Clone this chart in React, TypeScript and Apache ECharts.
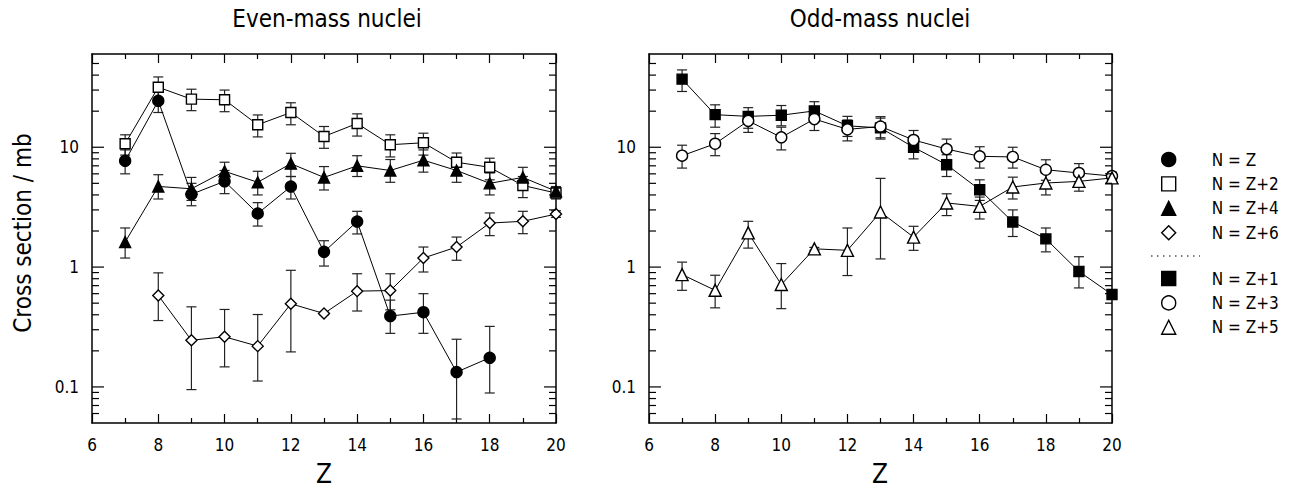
import React, { useEffect, useRef } from 'react';
import * as echarts from 'echarts';

const FONT = '"Liberation Sans Narrow", "DejaVu Sans Condensed", "Liberation Sans", sans-serif';

const X_MIN = 6;
const X_MAX = 20;
const X_INTERVAL = 2;
const Y_MIN = 0.05;
const Y_MAX = 60;
const Y_MINOR_TICKS = [0.06, 0.07, 0.08, 0.09, 0.2, 0.3, 0.4, 0.5, 0.6, 0.7, 0.8, 0.9, 2, 3, 4, 5, 6, 7, 8, 9, 20, 30, 40, 50];
const Y_MAJOR_TICKS = [0.1, 1, 10];

const TITLES = ['Even-mass nuclei', 'Odd-mass nuclei'];
const X_NAME = 'Z';
const Y_NAME = 'Cross section / mb';

// Even-mass nuclei
const nzZ = [7, 8, 9, 10, 11, 12, 13, 14, 15, 16, 17, 18];
const nzVal = [7.7, 24.4, 4.05, 5.2, 2.8, 4.7, 1.34, 2.4, 0.39, 0.42, 0.133, 0.175];
const nzLo = [6.0, 19.5, 3.25, 4.1, 2.2, 3.7, 1.02, 1.89, 0.28, 0.28, 0.054, 0.089];
const nzHi = [9.5, 29.5, 5.0, 6.4, 3.45, 5.7, 1.66, 2.92, 0.53, 0.6, 0.25, 0.32];

const nz2Z = [7, 8, 9, 10, 11, 12, 13, 14, 15, 16, 17, 18, 19, 20];
const nz2Val = [10.7, 31.7, 25.2, 24.9, 15.4, 19.5, 12.3, 15.8, 10.5, 10.9, 7.5, 6.8, 4.8, 4.15];
const nz2Lo = [8.6, 25.5, 20.2, 19.8, 12.2, 15.4, 9.8, 12.4, 8.3, 8.6, 5.9, 5.35, 3.8, 3.7];
const nz2Hi = [12.7, 38.6, 30.5, 30.0, 18.6, 23.5, 14.9, 19.0, 12.7, 13.1, 8.95, 8.1, 5.7, 4.6];

const nz4Z = [7, 8, 9, 10, 11, 12, 13, 14, 15, 16, 17, 18, 19, 20];
const nz4Val = [1.62, 4.71, 4.5, 6.3, 5.1, 7.3, 5.6, 7.0, 6.4, 7.8, 6.4, 5.0, 5.6, 4.3];
const nz4Lo = [1.19, 3.7, 3.6, 5.0, 4.0, 5.7, 4.4, 5.7, 5.1, 6.2, 5.1, 4.0, 4.6, 3.9];
const nz4Hi = [2.12, 5.9, 5.6, 7.5, 6.3, 8.9, 6.9, 8.5, 7.9, 9.5, 7.9, 6.1, 6.8, 4.7];

const nz6Z = [8, 9, 10, 11, 12, 13, 14, 15, 16, 17, 18, 19, 20];
const nz6Val = [0.58, 0.245, 0.262, 0.219, 0.494, 0.41, 0.63, 0.637, 1.19, 1.47, 2.33, 2.41, 2.77];
const nz6Lo = [0.358, 0.095, 0.147, 0.112, 0.196, 0.4, 0.43, 0.44, 0.91, 1.14, 1.83, 1.9, 2.6];
const nz6Hi = [0.895, 0.466, 0.443, 0.402, 0.94, 0.42, 0.88, 0.88, 1.47, 1.78, 2.83, 2.92, 2.95];

// Odd-mass nuclei
const nz1Z = [7, 8, 9, 10, 11, 12, 13, 14, 15, 16, 17, 18, 19, 20];
const nz1Val = [37.0, 18.7, 18.1, 18.5, 20.1, 15.1, 14.5, 10.0, 7.15, 4.42, 2.38, 1.72, 0.92, 0.59];
const nz1Lo = [29.2, 14.7, 14.4, 15.1, 16.4, 12.3, 11.7, 8.0, 5.7, 3.6, 1.8, 1.34, 0.67, 0.55];
const nz1Hi = [44.2, 22.6, 21.4, 22.3, 24.0, 18.1, 18.0, 12.3, 8.66, 5.35, 3.0, 2.12, 1.22, 0.63];

const nz3Z = [7, 8, 9, 10, 11, 12, 13, 14, 15, 16, 17, 18, 19, 20];
const nz3Val = [8.5, 10.7, 16.6, 12.1, 17.2, 14.1, 14.9, 11.5, 9.66, 8.4, 8.3, 6.49, 6.1, 5.75];
const nz3Lo = [6.7, 8.5, 13.3, 9.5, 13.8, 11.3, 12.0, 9.3, 7.9, 6.7, 6.7, 5.3, 5.0, 5.3];
const nz3Hi = [10.4, 13.0, 19.8, 14.7, 20.5, 16.9, 17.5, 13.8, 11.7, 10.1, 10.0, 7.86, 7.3, 6.2];

const nz5Z = [7, 8, 9, 10, 11, 12, 13, 14, 15, 16, 17, 18, 19, 20];
const nz5Val = [0.866, 0.64, 1.93, 0.715, 1.42, 1.38, 2.88, 1.78, 3.43, 3.21, 4.66, 5.03, 5.19, 5.55];
const nz5Lo = [0.64, 0.457, 1.44, 0.45, 1.38, 0.85, 1.17, 1.38, 2.69, 2.52, 3.7, 4.0, 4.3, 5.0];
const nz5Hi = [1.1, 0.855, 2.41, 1.07, 1.46, 2.12, 5.5, 2.19, 4.09, 3.84, 5.63, 6.1, 6.3, 6.1];

type Spec = {
  name: string;
  grid: number;
  z: number[];
  val: number[];
  lo: number[];
  hi: number[];
  symbol: string;
  size: number;
  filled: boolean;
};

const SPECS: Spec[] = [
  { name: 'N = Z', grid: 0, z: nzZ, val: nzVal, lo: nzLo, hi: nzHi, symbol: 'circle', size: 11, filled: true },
  { name: 'N = Z+2', grid: 0, z: nz2Z, val: nz2Val, lo: nz2Lo, hi: nz2Hi, symbol: 'rect', size: 10, filled: false },
  { name: 'N = Z+4', grid: 0, z: nz4Z, val: nz4Val, lo: nz4Lo, hi: nz4Hi, symbol: 'triangle', size: 11, filled: true },
  { name: 'N = Z+6', grid: 0, z: nz6Z, val: nz6Val, lo: nz6Lo, hi: nz6Hi, symbol: 'diamond', size: 11, filled: false },
  { name: 'N = Z+1', grid: 1, z: nz1Z, val: nz1Val, lo: nz1Lo, hi: nz1Hi, symbol: 'rect', size: 10, filled: true },
  { name: 'N = Z+3', grid: 1, z: nz3Z, val: nz3Val, lo: nz3Lo, hi: nz3Hi, symbol: 'circle', size: 11, filled: false },
  { name: 'N = Z+5', grid: 1, z: nz5Z, val: nz5Val, lo: nz5Lo, hi: nz5Hi, symbol: 'triangle', size: 12, filled: false },
];

const GRIDS = [
  { left: 92, top: 54, width: 464, height: 369 },
  { left: 649, top: 54, width: 463, height: 369 },
];

function buildOption() {
  const xAxes: any[] = [];
  const yAxes: any[] = [];
  GRIDS.forEach((_, g) => {
    const base = {
      type: 'value',
      gridIndex: g,
      min: X_MIN,
      max: X_MAX,
      interval: X_INTERVAL,
      axisLine: { show: true, onZero: false, lineStyle: { color: '#000', width: 1.5 } },
      axisTick: { show: true, inside: true, length: 9, lineStyle: { color: '#000', width: 1.2 } },
      minorTick: { show: true, splitNumber: 2, length: 5, lineStyle: { color: '#000', width: 1.2 } },
      splitLine: { show: false },
      minorSplitLine: { show: false },
    };
    xAxes.push({
      ...base,
      position: 'bottom',
      axisLabel: { show: true, color: '#000', fontSize: 17, fontFamily: FONT, margin: 13 },
    });
    xAxes.push({ ...base, position: 'top', axisLabel: { show: false } });
    const ybase = {
      type: 'log',
      logBase: 10,
      gridIndex: g,
      min: Y_MIN,
      max: Y_MAX,
      axisLine: { show: true, onZero: false, lineStyle: { color: '#000', width: 1.5 } },
      axisTick: { show: false },
      splitLine: { show: false },
    };
    yAxes.push({
      ...ybase,
      position: 'left',
      axisLabel: {
        show: true,
        color: '#000',
        fontSize: 17,
        fontFamily: FONT,
        margin: 13,
        formatter: (v: number) => {
          const t = Y_MAJOR_TICKS.find((m) => Math.abs(m - v) / m < 1e-6);
          return t !== undefined ? String(t) : '';
        },
      },
    });
    yAxes.push({ ...ybase, position: 'right', axisLabel: { show: false } });
  });

  const series: any[] = [];

  // y-axis ticks (log minor/major), both sides of each panel
  GRIDS.forEach((_, g) => {
    const tickData = [
      ...Y_MAJOR_TICKS.map((v) => [X_MIN, v, 1]),
      ...Y_MINOR_TICKS.map((v) => [X_MIN, v, 0]),
    ];
    series.push({
      type: 'custom',
      name: 'ticks' + g,
      xAxisIndex: g * 2,
      yAxisIndex: g * 2,
      silent: true,
      z: 5,
      encode: { x: 0, y: 1 },
      data: tickData,
      renderItem: (params: any, api: any) => {
        const v = api.value(1);
        const major = api.value(2) === 1;
        const l = api.coord([X_MIN, v]);
        const r = api.coord([X_MAX, v]);
        const len = major ? 12 : 7;
        const st = { stroke: '#000', lineWidth: 1.2 };
        return {
          type: 'group',
          children: [
            { type: 'line', shape: { x1: l[0], y1: l[1], x2: l[0] + len, y2: l[1] }, style: st },
            { type: 'line', shape: { x1: r[0] - len, y1: r[1], x2: r[0], y2: r[1] }, style: st },
          ],
        };
      },
    });
  });

  SPECS.forEach((s) => {
    const g = s.grid;
    series.push({
      type: 'custom',
      name: s.name + ' err',
      xAxisIndex: g * 2,
      yAxisIndex: g * 2,
      silent: true,
      z: 2,
      encode: { x: 0, y: [1, 2] },
      data: s.z.map((z, i) => [z, s.lo[i], s.hi[i]]),
      renderItem: (params: any, api: any) => {
        const z = api.value(0);
        const p1 = api.coord([z, api.value(1)]);
        const p2 = api.coord([z, api.value(2)]);
        const cap = 5;
        const st = { stroke: '#222', lineWidth: 1.2 };
        return {
          type: 'group',
          children: [
            { type: 'line', shape: { x1: p1[0], y1: p1[1], x2: p2[0], y2: p2[1] }, style: st },
            { type: 'line', shape: { x1: p1[0] - cap, y1: p1[1], x2: p1[0] + cap, y2: p1[1] }, style: st },
            { type: 'line', shape: { x1: p2[0] - cap, y1: p2[1], x2: p2[0] + cap, y2: p2[1] }, style: st },
          ],
        };
      },
    });
    series.push({
      type: 'line',
      name: s.name,
      xAxisIndex: g * 2,
      yAxisIndex: g * 2,
      z: 3,
      data: s.z.map((z, i) => [z, s.val[i]]),
      symbol: s.symbol,
      symbolSize: s.size,
      showSymbol: true,
      showAllSymbol: true,
      lineStyle: { color: '#000', width: 1 },
      itemStyle: { color: s.filled ? '#000' : '#fff', borderColor: '#000', borderWidth: 1.4 },
      emphasis: { disabled: true },
    });
  });

  const legendItems = (grid: number) =>
    SPECS.filter((s) => s.grid === grid).map((s) => ({
      name: s.name,
      icon: s.symbol,
      itemStyle: { color: s.filled ? '#000' : '#fff', borderColor: '#000', borderWidth: 1.4 },
    }));

  const legendBase = {
    orient: 'vertical',
    left: 1156,
    itemWidth: 14,
    itemHeight: 14,
    itemGap: 7.4,
    selectedMode: false,
    textStyle: { color: '#000', fontSize: 17, fontFamily: FONT, padding: [0, 0, 0, 31] },
  };

  return {
    animation: false,
    backgroundColor: '#fff',
    grid: GRIDS.map((g) => ({ ...g, containLabel: false })),
    xAxis: xAxes,
    yAxis: yAxes,
    series,
    legend: [
      { ...legendBase, top: 146, data: legendItems(0) },
      { ...legendBase, top: 265, data: legendItems(1) },
    ],
    graphic: [
      { type: 'text', x: 327, y: 19, style: { text: TITLES[0], font: `24px ${FONT}`, fill: '#000', align: 'center', verticalAlign: 'middle' } },
      { type: 'text', x: 880, y: 19, style: { text: TITLES[1], font: `24px ${FONT}`, fill: '#000', align: 'center', verticalAlign: 'middle' } },
      { type: 'text', x: 324, y: 474, style: { text: X_NAME, font: `26px ${FONT}`, fill: '#000', align: 'center', verticalAlign: 'middle' } },
      { type: 'text', x: 880, y: 474, style: { text: X_NAME, font: `26px ${FONT}`, fill: '#000', align: 'center', verticalAlign: 'middle' } },
      {
        type: 'text',
        x: 23,
        y: 233,
        rotation: Math.PI / 2,
        style: { text: Y_NAME, font: `24px ${FONT}`, fill: '#000', align: 'center', verticalAlign: 'middle' },
      },
      {
        type: 'line',
        shape: { x1: 1151, y1: 256, x2: 1200, y2: 256 },
        style: { stroke: '#000', lineWidth: 1.2, lineDash: [1.5, 4.5] },
      },
    ],
  };
}

export default function App() {
  const ref = useRef<HTMLDivElement>(null);
  useEffect(() => {
    if (!ref.current) return;
    const chart = echarts.init(ref.current, undefined, { renderer: 'svg' });
    chart.setOption(buildOption() as any);
    return () => chart.dispose();
  }, []);
  return (
    <div
      ref={ref}
      style={{ position: 'fixed', left: 0, top: 0, width: 1298, height: 491, background: '#fff' }}
    />
  );
}
